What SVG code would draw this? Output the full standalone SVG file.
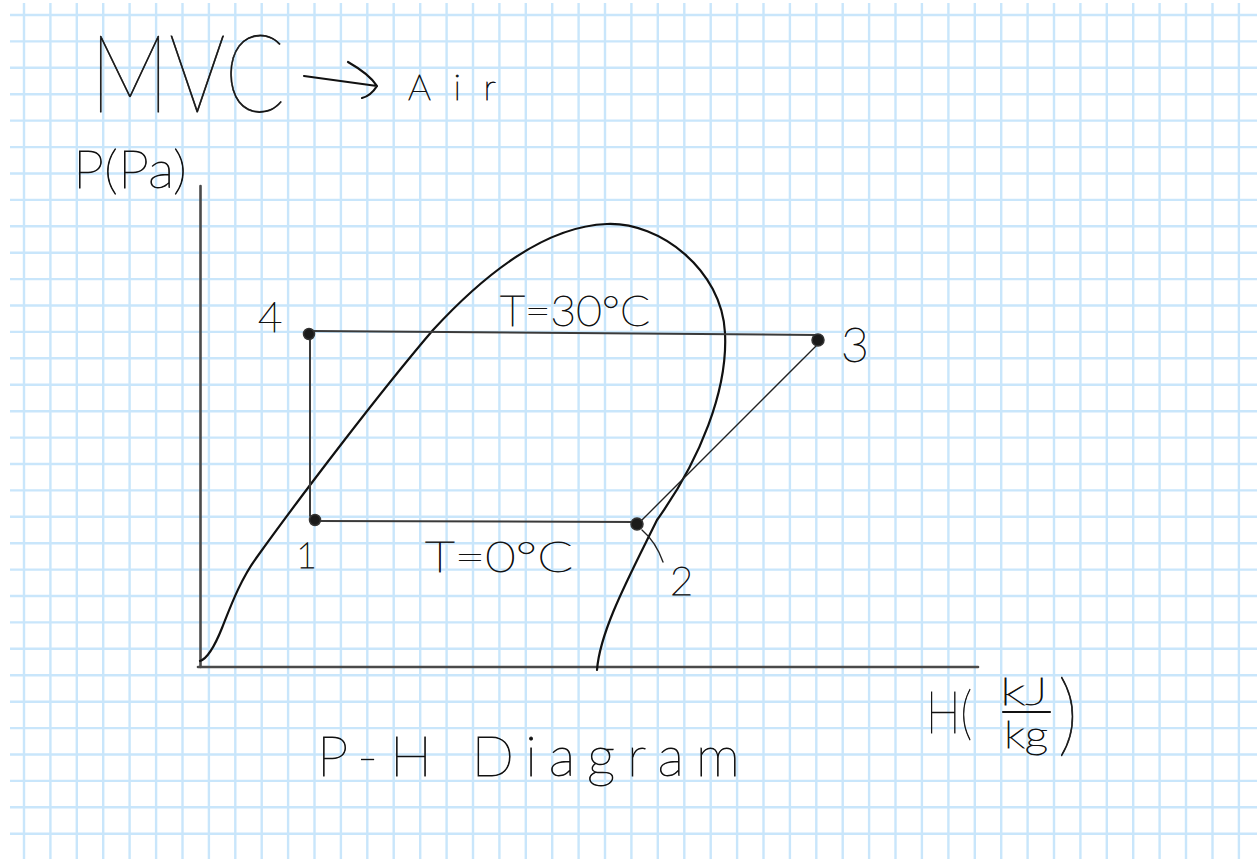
<svg xmlns="http://www.w3.org/2000/svg" width="1257" height="859" viewBox="0 0 1257 859">
<style>
.grid{stroke:#c9e6fb;stroke-width:2.4;fill:none}
.axis{stroke:#4a4a4a;stroke-width:2.6;fill:none;stroke-linecap:round}
.curve{stroke:#111;stroke-width:2.2;fill:none;stroke-linecap:round;stroke-linejoin:round}
.cyc{stroke:#3a3a3a;stroke-width:2;fill:none;stroke-linecap:round}
.thin{stroke:#222;stroke-width:1.4;fill:none;stroke-linecap:round}
.dot{fill:#1a1a1a;stroke:#333;stroke-width:1.5}
.hw{font-family:Lato,"Liberation Sans",sans-serif;font-weight:100;fill:#111;stroke:#111;stroke-width:0.8}
</style>
<rect width="1257" height="859" fill="#ffffff"/>
<g id="grid">
<path class="grid" d="M24 3V859M50.4 3V859M76.8 3V859M103.2 3V859M129.6 3V859M156.1 3V859M182.5 3V859M208.9 3V859M235.3 3V859M261.7 3V859M288.1 3V859M314.5 3V859M340.9 3V859M367.3 3V859M393.7 3V859M420.2 3V859M446.6 3V859M473 3V859M499.4 3V859M525.8 3V859M552.2 3V859M578.6 3V859M605 3V859M631.4 3V859M657.8 3V859M684.3 3V859M710.7 3V859M737.1 3V859M763.5 3V859M789.9 3V859M816.3 3V859M842.7 3V859M869.1 3V859M895.5 3V859M921.9 3V859M948.4 3V859M974.8 3V859M1001.2 3V859M1027.6 3V859M1054 3V859M1080.4 3V859M1106.8 3V859M1133.2 3V859M1159.6 3V859M1186 3V859M1212.5 3V859M1238.9 3V859"/>
<path class="grid" d="M10 15H1257M10 41.4H1257M10 67.8H1257M10 94.2H1257M10 120.6H1257M10 147.1H1257M10 173.5H1257M10 199.9H1257M10 226.3H1257M10 252.7H1257M10 279.1H1257M10 305.5H1257M10 331.9H1257M10 358.3H1257M10 384.7H1257M10 411.2H1257M10 437.6H1257M10 464H1257M10 490.4H1257M10 516.8H1257M10 543.2H1257M10 569.6H1257M10 596H1257M10 622.4H1257M10 648.8H1257M10 675.3H1257M10 701.7H1257M10 728.1H1257M10 754.5H1257M10 780.9H1257M10 807.3H1257M10 833.7H1257"/>
</g>
<g id="axes">
<path class="axis" d="M200.5 186V667"/>
<path class="axis" d="M198 667H978"/>
</g>
<g id="saturation-dome">
<path class="curve" d="M200 661C206 659 214 648 222 628C230 608 240 580 257 557C300 497 380 392 433 330C490 268 550 226 607 224C660 222 722 270 725 333C728 390 700 460 657 520C630 575 600 630 597 670"/>
</g>
<g id="connectors">
<path class="cyc" d="M312 331L817 335"/>
<path class="cyc" d="M310 338V516"/>
<path class="cyc" d="M316 521L636 522"/>
<path class="thin" d="M640 522L816 346"/>
<path class="thin" d="M642 530Q656 542 663 562"/>
</g>
<g id="point-4"><circle class="dot" cx="309" cy="334" r="5.5"/><text class="hw" x="258" y="332" font-size="42">4</text></g>
<g id="point-1"><circle class="dot" cx="315" cy="520" r="5.5"/><text class="hw" x="296" y="568" font-size="36">1</text></g>
<g id="point-2"><circle class="dot" cx="637" cy="524" r="6"/><text class="hw" x="670" y="595" font-size="40">2</text></g>
<g id="point-3"><circle class="dot" cx="818" cy="340" r="6"/><text class="hw" x="841" y="362" font-size="48">3</text></g>
<g id="labels">
<text class="hw" x="90" y="112" font-size="108" textLength="195" lengthAdjust="spacingAndGlyphs">MVC</text>
<path class="curve" d="M304 76L377 86M348 62C362 70 372 78 377 86C372 94 366 97 362 98"/>
<text class="hw" x="408" y="100" font-size="36" textLength="88" lengthAdjust="spacing">Air</text>
<text class="hw" x="73" y="188" font-size="52" textLength="114" lengthAdjust="spacingAndGlyphs">P(Pa)</text>
<text class="hw" x="500" y="326" font-size="42" textLength="150" lengthAdjust="spacingAndGlyphs">T=30°C</text>
<text class="hw" x="425" y="572" font-size="42" textLength="148" lengthAdjust="spacingAndGlyphs">T=0°C</text>
<text class="hw" x="926" y="733" font-size="58" textLength="46" lengthAdjust="spacingAndGlyphs">H(</text>
<text class="hw" x="1000" y="705" font-size="38" textLength="48" lengthAdjust="spacingAndGlyphs">kJ</text>
<path class="curve" d="M1003 712H1050"/>
<text class="hw" x="1004" y="748" font-size="38" textLength="44" lengthAdjust="spacingAndGlyphs">kg</text>
<text class="hw" x="1058" y="745" font-size="90" textLength="20" lengthAdjust="spacingAndGlyphs">)</text>
<text class="hw" x="317" y="776" font-size="56" textLength="423" lengthAdjust="spacing">P-H Diagram</text>
</g>
</svg>
